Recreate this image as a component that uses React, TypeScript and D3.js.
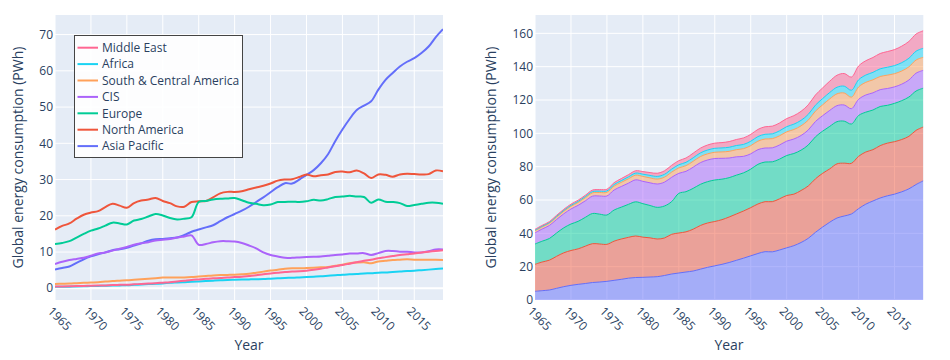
import React from 'react';
import * as d3 from 'd3';

const years = [
  1965, 1966, 1967, 1968, 1969, 1970, 1971, 1972, 1973, 1974,
  1975, 1976, 1977, 1978, 1979, 1980, 1981, 1982, 1983, 1984,
  1985, 1986, 1987, 1988, 1989, 1990, 1991, 1992, 1993, 1994,
  1995, 1996, 1997, 1998, 1999, 2000, 2001, 2002, 2003, 2004,
  2005, 2006, 2007, 2008, 2009, 2010, 2011, 2012, 2013, 2014,
  2015, 2016, 2017, 2018, 2019,
];

const asiaPacific = [
  5.2, 5.6, 6.0, 7.0, 8.0, 8.8, 9.4, 9.9, 10.5, 10.8,
  11.2, 11.8, 12.4, 13.1, 13.5, 13.6, 13.8, 14.0, 14.7, 15.6,
  16.2, 16.8, 17.4, 18.5, 19.6, 20.5, 21.4, 22.5, 23.8, 25.1,
  26.5, 27.9, 29.0, 28.9, 30.0, 31.3, 32.6, 34.5, 37.0, 40.6,
  43.8, 46.7, 49.2, 50.4, 51.6, 54.8, 57.5, 59.4, 61.2, 62.5,
  63.5, 64.9, 66.7, 69.3, 71.5,
];
const northAmerica = [
  16.2, 17.2, 17.9, 19.2, 20.3, 20.9, 21.3, 22.4, 23.3, 22.8,
  22.2, 23.5, 24.2, 24.5, 24.9, 24.1, 23.5, 22.6, 22.5, 23.8,
  24.0, 24.1, 25.1, 26.2, 26.6, 26.6, 26.8, 27.3, 27.8, 28.3,
  28.9, 29.7, 30.0, 30.1, 30.7, 31.4, 30.9, 31.2, 31.4, 32.1,
  32.2, 32.0, 32.5, 31.7, 30.4, 31.4, 31.3, 30.8, 31.4, 31.6,
  31.5, 31.4, 31.5, 32.5, 32.3,
];
const europe = [
  12.2, 12.5, 13.0, 14.0, 15.0, 15.9, 16.5, 17.3, 18.1, 17.9,
  17.6, 18.7, 19.1, 19.8, 20.5, 20.1, 19.4, 19.0, 19.2, 19.6,
  23.8, 24.1, 24.5, 24.7, 24.8, 24.9, 24.3, 23.6, 23.3, 22.9,
  23.1, 23.8, 23.8, 23.9, 23.8, 24.0, 24.4, 24.2, 24.6, 25.2,
  25.3, 25.5, 25.3, 25.2, 23.6, 24.5, 23.9, 23.8, 23.5, 22.7,
  23.0, 23.3, 23.6, 23.6, 23.3,
];
const cis = [
  6.7, 7.3, 7.8, 8.1, 8.4, 9.0, 9.6, 9.9, 10.4, 10.9,
  11.4, 12.0, 12.4, 12.7, 13.2, 13.4, 13.6, 14.0, 14.3, 14.6,
  12.0, 12.2, 12.7, 13.0, 13.0, 12.9, 12.5, 11.8, 11.0, 9.9,
  9.2, 8.8, 8.4, 8.4, 8.5, 8.6, 8.7, 8.8, 9.0, 9.2,
  9.3, 9.6, 9.6, 9.7, 9.2, 9.7, 10.3, 10.3, 10.1, 10.1,
  9.9, 9.9, 10.2, 10.7, 10.7,
];
const southCentralAmerica = [
  1.2, 1.25, 1.3, 1.4, 1.5, 1.6, 1.7, 1.85, 2.0, 2.1,
  2.2, 2.35, 2.5, 2.65, 2.8, 2.95, 2.95, 2.95, 3.0, 3.1,
  3.25, 3.4, 3.55, 3.65, 3.7, 3.75, 3.85, 4.0, 4.3, 4.6,
  4.9, 5.1, 5.4, 5.5, 5.5, 5.6, 5.7, 5.8, 5.9, 6.2,
  6.5, 6.9, 7.1, 7.2, 6.9, 7.4, 7.6, 7.8, 7.9, 8.0,
  7.9, 7.9, 7.9, 7.9, 7.8,
];
const africa = [
  0.4, 0.42, 0.45, 0.5, 0.55, 0.6, 0.65, 0.7, 0.75, 0.8,
  0.85, 0.95, 1.05, 1.15, 1.25, 1.35, 1.5, 1.6, 1.7, 1.8,
  1.9, 2.0, 2.1, 2.2, 2.3, 2.35, 2.4, 2.45, 2.5, 2.55,
  2.65, 2.75, 2.85, 2.9, 3.0, 3.1, 3.2, 3.3, 3.45, 3.6,
  3.75, 3.85, 3.95, 4.1, 4.15, 4.3, 4.35, 4.5, 4.6, 4.75,
  4.85, 5.0, 5.15, 5.3, 5.45,
];
const middleEast = [
  0.5, 0.52, 0.55, 0.6, 0.65, 0.7, 0.75, 0.8, 0.9, 0.95,
  1.0, 1.1, 1.2, 1.3, 1.4, 1.55, 1.7, 1.9, 2.1, 2.3,
  2.45, 2.6, 2.75, 2.85, 3.0, 3.1, 3.2, 3.4, 3.6, 3.9,
  4.1, 4.3, 4.5, 4.6, 4.7, 4.85, 5.1, 5.4, 5.75, 6.1,
  6.4, 6.8, 7.2, 7.6, 7.9, 8.3, 8.6, 8.9, 9.2, 9.4,
  9.6, 9.9, 10.1, 10.3, 10.5,
];

const regionNames = [
  'Asia Pacific', 'North America', 'Europe', 'CIS',
  'South & Central America', 'Africa', 'Middle East',
];
const regionValues = [asiaPacific, northAmerica, europe, cis, southCentralAmerica, africa, middleEast];
const regionColors = ['#636EFA', '#EF553B', '#00CC96', '#AB63FA', '#FFA15A', '#19D3F3', '#FF6692'];

const xTicks = [1965, 1970, 1975, 1980, 1985, 1990, 1995, 2000, 2005, 2010, 2015];
const leftYTicks = [0, 10, 20, 30, 40, 50, 60, 70];
const rightYTicks = [0, 20, 40, 60, 80, 100, 120, 140, 160];

const FONT = '"Open Sans", verdana, arial, sans-serif';
const TEXT = '#2a3f5f';
const BG = '#E5ECF6';
const Y_TITLE = 'Global energy consumption (PWh)';

const TOP = 15;
const BOTTOM = 300;

function XAxis({ x }: { x: d3.ScaleLinear<number, number> }) {
  return (
    <g>
      {xTicks.map((t) => (
        <text
          key={t}
          transform={`translate(${x(t) - 2},${BOTTOM + 6}) rotate(45)`}
          fontSize={12}
          fill={TEXT}
          fontFamily={FONT}
          dy="0.7em"
        >
          {t}
        </text>
      ))}
    </g>
  );
}

function Grid({ x, y, yTicks }: any) {
  const [x0, x1] = x.range();
  return (
    <g>
      <rect x={x0} y={TOP} width={x1 - x0} height={BOTTOM - TOP} fill={BG} />
      {xTicks.map((t) => (
        <line key={'gx' + t} x1={x(t)} x2={x(t)} y1={TOP} y2={BOTTOM} stroke="#fff" strokeWidth={1} />
      ))}
      {yTicks.map((t: number) => (
        <line key={'gy' + t} x1={x0} x2={x1} y1={y(t)} y2={y(t)} stroke="#fff" strokeWidth={t === 0 ? 2 : 1} />
      ))}
    </g>
  );
}

function YLabels({ x, y, yTicks }: any) {
  const x0 = x.range()[0];
  return (
    <g>
      {yTicks.map((t: number) => (
        <text key={t} x={x0 - 2} y={y(t)} dy="0.35em" textAnchor="end" fontSize={12} fill={TEXT} fontFamily={FONT}>
          {t}
        </text>
      ))}
    </g>
  );
}

export default function App() {
  const xL = d3.scaleLinear().domain([1965, 2019]).range([55, 443]);
  const yL = d3.scaleLinear().domain([-3.23, 75.4]).range([BOTTOM, TOP]);
  const xR = d3.scaleLinear().domain([1965, 2019]).range([535, 923.3]);
  const yR = d3.scaleLinear().domain([0, 171]).range([BOTTOM, TOP]);

  const curve = d3.curveCatmullRom.alpha(0.5);

  const lineL = d3
    .line<number>()
    .x((_, i) => xL(years[i]))
    .y((d) => yL(d))
    .curve(curve);

  // stacked data for right chart
  const stackRows = years.map((yr, i) => {
    const row: any = { year: yr };
    regionNames.forEach((n, k) => (row[n] = regionValues[k][i]));
    return row;
  });
  const stacked = d3.stack<any>().keys(regionNames)(stackRows);

  const areaR = d3
    .area<any>()
    .x((d) => xR(d.data.year))
    .y0((d) => yR(d[0]))
    .y1((d) => yR(d[1]))
    .curve(curve);
  const lineR = d3
    .line<any>()
    .x((d) => xR(d.data.year))
    .y((d) => yR(d[1]))
    .curve(curve);

  const legendOrder = [...regionNames.keys()].reverse();

  return (
    <svg
      width={950}
      height={360}
      style={{ position: 'absolute', left: 0, top: 0, background: '#fff' }}
      fontFamily={FONT}
    >
      {/* LEFT CHART */}
      <Grid x={xL} y={yL} yTicks={leftYTicks} />
      <defs>
        <clipPath id="clipL">
          <rect x={55} y={TOP} width={443 - 55} height={BOTTOM - TOP} />
        </clipPath>
        <clipPath id="clipR">
          <rect x={535} y={TOP} width={923.3 - 535} height={BOTTOM - TOP} />
        </clipPath>
      </defs>
      <g clipPath="url(#clipL)">
        {regionValues.map((vals, k) => (
          <path key={k} d={lineL(vals) || ''} fill="none" stroke={regionColors[k]} strokeWidth={2} />
        ))}
      </g>
      <YLabels x={xL} y={yL} yTicks={leftYTicks} />
      <XAxis x={xL} />
      <text
        transform={`translate(23,157.5) rotate(-90)`}
        textAnchor="middle"
        fontSize={14}
        fill={TEXT}
      >
        {Y_TITLE}
      </text>
      <text x={249} y={350} textAnchor="middle" fontSize={14} fill={TEXT}>
        Year
      </text>

      {/* Legend */}
      <g>
        <rect x={74.5} y={35.5} width={168} height={122} fill="rgba(255,255,255,0.9)" stroke="#444" strokeWidth={1} />
        {legendOrder.map((k, i) => {
          const cy = 47.7 + i * 16.4;
          return (
            <g key={k}>
              <line x1={77.5} x2={98} y1={cy} y2={cy} stroke={regionColors[k]} strokeWidth={2} />
              <text x={102} y={cy} dy="0.35em" fontSize={12} fill={TEXT}>
                {regionNames[k]}
              </text>
            </g>
          );
        })}
      </g>

      {/* RIGHT CHART */}
      <Grid x={xR} y={yR} yTicks={rightYTicks} />
      <g clipPath="url(#clipR)">
        {stacked.map((layer, k) => (
          <path key={'a' + k} d={areaR(layer) || ''} fill={regionColors[k]} fillOpacity={0.5} stroke="none" />
        ))}
        {stacked.map((layer, k) => (
          <path key={'l' + k} d={lineR(layer) || ''} fill="none" stroke={regionColors[k]} strokeWidth={1} />
        ))}
      </g>
      <YLabels x={xR} y={yR} yTicks={rightYTicks} />
      <XAxis x={xR} />
      <text
        transform={`translate(496,157.5) rotate(-90)`}
        textAnchor="middle"
        fontSize={14}
        fill={TEXT}
      >
        {Y_TITLE}
      </text>
      <text x={729} y={350} textAnchor="middle" fontSize={14} fill={TEXT}>
        Year
      </text>
    </svg>
  );
}
